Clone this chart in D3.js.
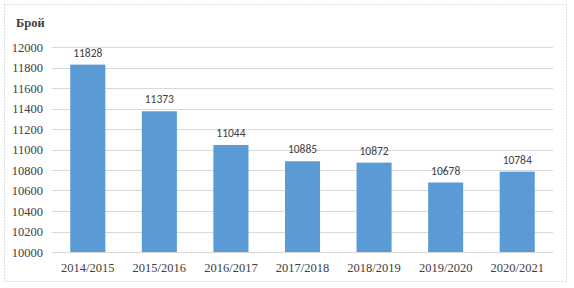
<!DOCTYPE html>
<html>
<head>
<meta charset="utf-8">
<script src="https://cdn.jsdelivr.net/npm/d3@7"></script>
<style>
  body { margin: 0; background: #fff; }
  svg { display: block; }
</style>
</head>
<body>
<div id="chart"></div>
<script>
// datos del gráfico
var anhos = ["2014/2015", "2015/2016", "2016/2017", "2017/2018", "2018/2019", "2019/2020", "2020/2021"];
var valores = [11828, 11373, 11044, 10885, 10872, 10678, 10784];
var ticksY = [10000, 10200, 10400, 10600, 10800, 11000, 11200, 11400, 11600, 11800, 12000];
var tituloEje = "Брой";

var ancho = 574, alto = 288;
var colorBarra = "#5b9bd5";
var colorRejilla = "#d9d9d9";

var svg = d3.select("#chart").append("svg")
    .attr("width", ancho)
    .attr("height", alto);

// borde punteado del área del gráfico
svg.append("rect")
    .attr("x", 4.5).attr("y", 4.5)
    .attr("width", 562).attr("height", 277)
    .attr("fill", "#fff")
    .attr("stroke", "#bfbfbf")
    .attr("stroke-dasharray", "1,2");

var x = d3.scaleBand()
    .domain(anhos)
    .range([52, 553])
    .paddingInner(0.51)
    .paddingOuter(0.255);

var y = d3.scaleLinear()
    .domain([10000, 12000])
    .range([252, 47]);

// rejilla
svg.append("g")
    .selectAll("line")
    .data(ticksY)
    .enter()
    .append("line")
    .attr("x1", 52).attr("x2", 553)
    .attr("y1", function (d) { return Math.round(y(d)) + 0.5; })
    .attr("y2", function (d) { return Math.round(y(d)) + 0.5; })
    .attr("stroke", colorRejilla)
    .attr("stroke-width", 1);

// eje Y
var ejeY = d3.axisLeft(y).tickValues(ticksY).tickFormat(d3.format("d")).tickSize(0).tickPadding(9);
svg.append("g")
    .attr("transform", "translate(52,0)")
    .call(ejeY)
    .call(function (g) { g.select(".domain").remove(); })
    .selectAll("text")
    .attr("font-family", "'Liberation Serif', 'Times New Roman', serif")
    .attr("font-size", "12.5px")
    .attr("fill", "#404040");

// barras
svg.append("g")
    .selectAll("rect")
    .data(valores)
    .enter()
    .append("rect")
    .attr("x", function (d, i) { return x(anhos[i]); })
    .attr("y", function (d) { return y(d); })
    .attr("width", x.bandwidth())
    .attr("height", function (d) { return y(10000) - y(d); })
    .attr("fill", colorBarra);

// línea base
svg.append("line")
    .attr("x1", 52).attr("x2", 553)
    .attr("y1", 252.5).attr("y2", 252.5)
    .attr("stroke", colorRejilla);

// etiquetas de valores
svg.append("g")
    .selectAll("text")
    .data(valores)
    .enter()
    .append("text")
    .attr("x", function (d, i) { return x(anhos[i]) + x.bandwidth() / 2; })
    .attr("y", function (d) { return y(d) - 8; })
    .attr("text-anchor", "middle")
    .attr("font-family", "Carlito, 'Liberation Sans', Arial, sans-serif")
    .attr("font-size", "11.5px")
    .attr("fill", "#404040")
    .text(function (d) { return d; });

// eje X
var ejeX = d3.axisBottom(x).tickSize(0).tickPadding(11);
svg.append("g")
    .attr("transform", "translate(0,252)")
    .call(ejeX)
    .call(function (g) { g.select(".domain").remove(); })
    .selectAll("text")
    .attr("font-family", "'Liberation Serif', 'Times New Roman', serif")
    .attr("font-size", "12.5px")
    .attr("fill", "#404040");

// título del eje
svg.append("text")
    .attr("x", 16)
    .attr("y", 27)
    .attr("font-family", "'Liberation Serif', 'Times New Roman', serif")
    .attr("font-size", "12.5px")
    .attr("font-weight", "bold")
    .attr("fill", "#404040")
    .text(tituloEje);
</script>
</body>
</html>
